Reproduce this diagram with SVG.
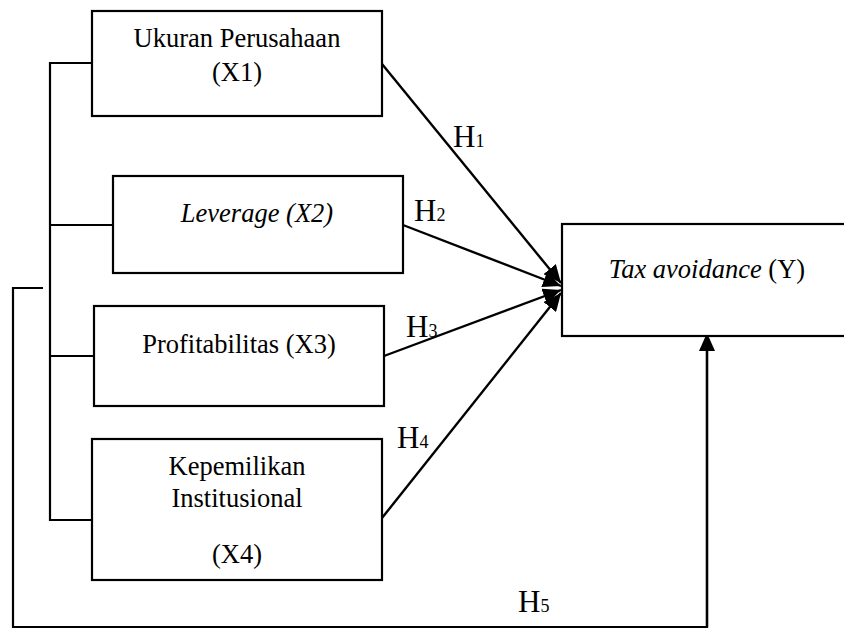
<svg xmlns="http://www.w3.org/2000/svg" width="844" height="628" viewBox="0 0 844 628">
<style>
.box{fill:#fff;stroke:#000;stroke-width:2.2}
.t{font-family:"Liberation Serif","Times New Roman",Times,serif;font-size:26.5px;fill:#000}
.i{font-style:italic}
.h{font-family:"Liberation Serif","Times New Roman",Times,serif;font-size:31px;fill:#000}
.sub{font-size:18px}
.ln{fill:none;stroke:#000;stroke-width:2.2}
.ar{fill:none;stroke:#000;stroke-width:2.4;marker-end:url(#ah)}
</style>
<defs>
<marker id="ah" markerUnits="userSpaceOnUse" markerWidth="20" markerHeight="16" refX="18" refY="8" orient="auto">
<path d="M0,0 L18,8 L0,16 z" fill="#000"/>
</marker>
</defs>
<rect width="844" height="628" fill="#fff"/>
<g id="connectors">
<polyline class="ln" points="92,63 50,63 50,520 92,520"/>
<line class="ln" x1="50" y1="225" x2="113" y2="225"/>
<line class="ln" x1="50" y1="356" x2="94" y2="356"/>
<polyline class="ln" points="43,288 13,288 13,627 707,627 707,350"/>
<line class="ar" x1="707" y1="627" x2="707" y2="333"/>
<line class="ar" x1="382" y1="64" x2="561" y2="283"/>
<line class="ar" x1="403" y1="225" x2="561" y2="286"/>
<line class="ar" x1="384" y1="356" x2="561" y2="290"/>
<line class="ar" x1="382" y1="518" x2="561" y2="293"/>
</g>
<g id="labels">
<text class="h" x="453" y="147">H<tspan class="sub">1</tspan></text>
<text class="h" x="414" y="221">H<tspan class="sub">2</tspan></text>
<text class="h" x="406" y="337">H<tspan class="sub">3</tspan></text>
<text class="h" x="397" y="448">H<tspan class="sub">4</tspan></text>
<text class="h" x="518" y="612">H<tspan class="sub">5</tspan></text>
</g>
<g id="x1">
<rect class="box" x="92" y="11" width="290" height="105"/>
<text class="t" x="237" y="47" text-anchor="middle">Ukuran Perusahaan</text>
<text class="t" x="237" y="81" text-anchor="middle">(X1)</text>
</g>
<g id="x2">
<rect class="box" x="113" y="176" width="290" height="97"/>
<text class="t i" x="257" y="222" text-anchor="middle">Leverage (X2)</text>
</g>
<g id="x3">
<rect class="box" x="94" y="306" width="290" height="100"/>
<text class="t" x="239" y="353" text-anchor="middle">Profitabilitas (X3)</text>
</g>
<g id="x4">
<rect class="box" x="92" y="439" width="290" height="141"/>
<text class="t" x="237" y="475" text-anchor="middle">Kepemilikan</text>
<text class="t" x="237" y="507" text-anchor="middle">Institusional</text>
<text class="t" x="237" y="563" text-anchor="middle">(X4)</text>
</g>
<g id="y">
<rect class="box" x="562" y="224" width="300" height="112"/>
<text class="t" x="707" y="278" text-anchor="middle"><tspan class="i">Tax avoidance</tspan> (Y)</text>
</g>
</svg>
